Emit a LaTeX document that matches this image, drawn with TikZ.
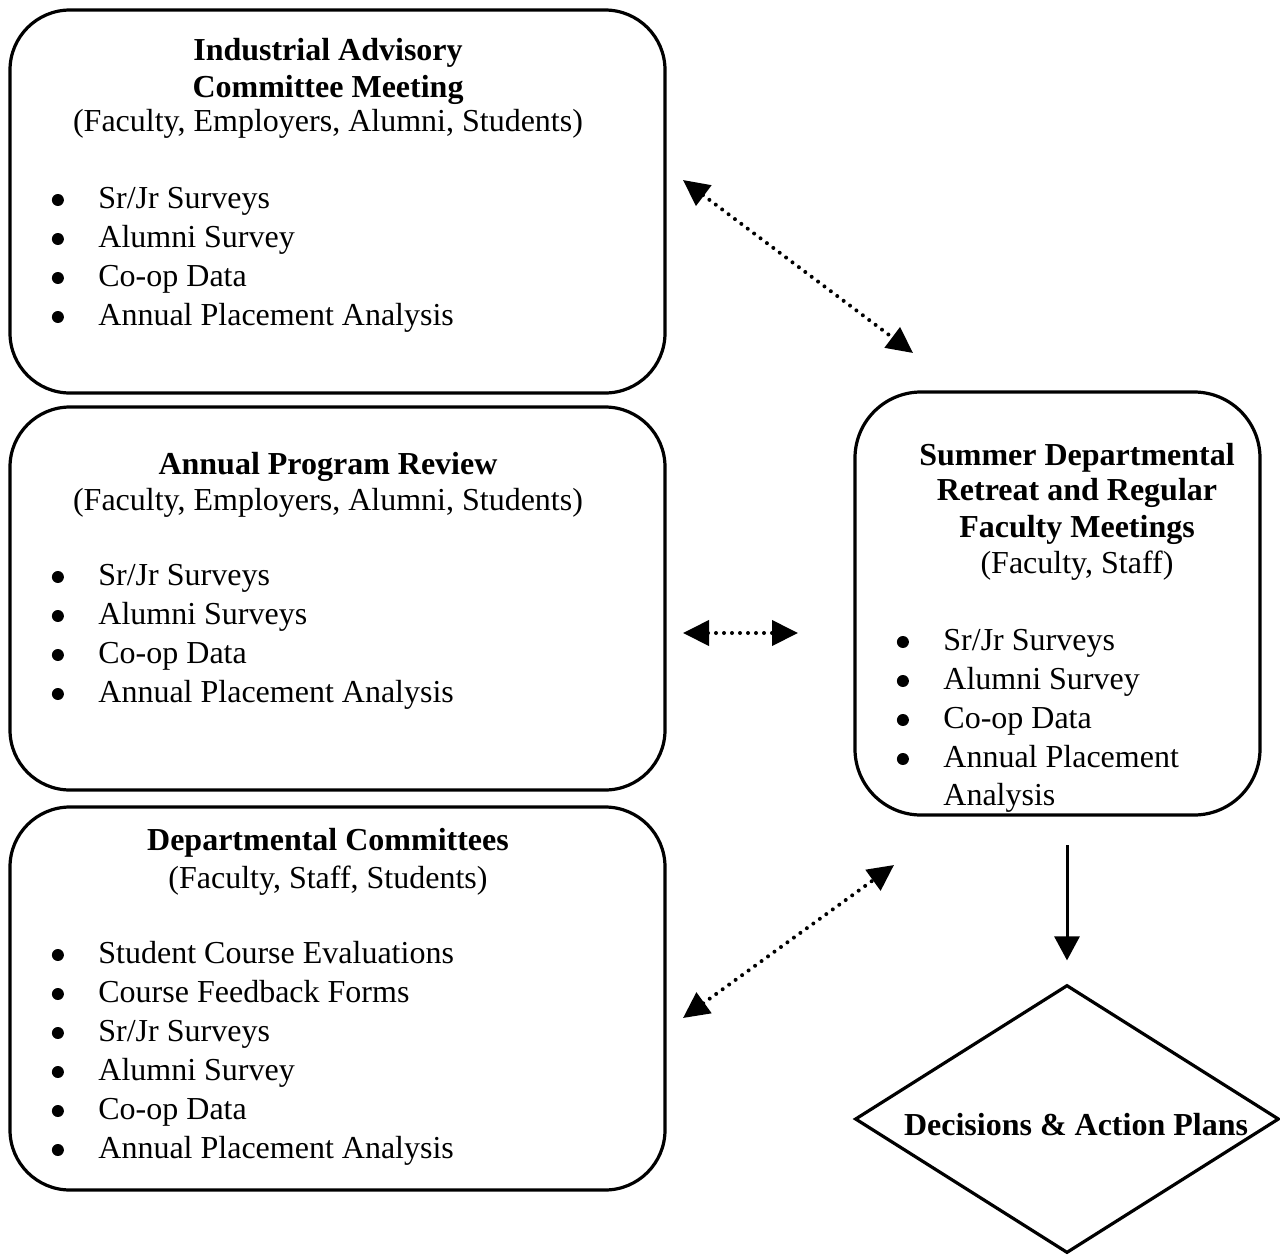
\documentclass[tikz,border=0pt]{standalone}
\usepackage{fontspec}
\setmainfont{Liberation Serif}
\usepackage{tikz}
\usetikzlibrary{positioning, arrows.meta, shapes.geometric}
\newcommand{\bigbullet}{\raisebox{1pt}{\tikz\fill (0,0) circle (3pt);}}
\tikzset{
    groupbox/.style={
        draw, line width=1.6pt, rounded corners=30pt, inner sep=0pt,
        minimum width=327.5pt, minimum height=191.5pt
    },
    retreatbox/.style={
        groupbox, rounded corners=33pt, minimum width=202.5pt, minimum height=211.5pt
    },
    decisionnode/.style={
        diamond, draw, line width=1.6pt, inner sep=0pt,
        minimum width=212pt, minimum height=134pt
    },
    titletext/.style={
        font=\fontsize{16pt}{19pt}\selectfont\bfseries, anchor=base, inner sep=0pt
    },
    subtext/.style={
        font=\fontsize{16pt}{19pt}\selectfont, anchor=base, inner sep=0pt
    },
    itemtext/.style={
        font=\fontsize{16pt}{19pt}\selectfont, anchor=base west, inner sep=0pt,
        execute at begin node={\makebox[23.5pt][l]{\hspace{0.25pt}\bigbullet}}
    },
    linkptr/.style={
        {Triangle[length=13pt,width=12.5pt]}-{Triangle[length=13pt,width=12.5pt]},
        line width=2pt, dash pattern=on 0pt off 4pt, line cap=round
    },
    flowptr/.style={
        -{Triangle[length=12pt,width=12.5pt]}, line width=1.5pt
    }
}
\begin{document}
\begin{tikzpicture}[x=0.5pt, y=-0.5pt]
    \useasboundingbox (0,0) rectangle (1280,1254);

    % 1. CÁC KHUNG
    \node[groupbox] (advisory) at (337.5,201.5) {};
    \node[groupbox] (review) at (337.5,598.5) {};
    \node[groupbox] (committees) at (337.5,998.5) {};
    \node[retreatbox] (retreat) at (1057.5,603.5) {};
    \node[decisionnode] (decision) at (1067,1119) {};

    % 2. TIÊU ĐỀ
    \node[titletext] (advisorytitle) at (328,60) {Industrial Advisory};
    \node[titletext] (advisorytitleb) at (328,97) {Committee Meeting};
    \node[subtext] (advisorysub) at (328,131) {(Faculty, Employers, Alumni, Students)};

    \node[titletext] (reviewtitle) at (328,474) {Annual Program Review};
    \node[subtext] (reviewsub) at (328,510) {(Faculty, Employers, Alumni, Students)};

    \node[titletext] (committeestitle) at (328,850) {Departmental Committees};
    \node[subtext] (committeessub) at (328,888) {(Faculty, Staff, Students)};

    \node[titletext] (retreattitle) at (1077,465) {Summer Departmental};
    \node[titletext] (retreattitleb) at (1077,500) {Retreat and Regular};
    \node[titletext] (retreattitlec) at (1077,537) {Faculty Meetings};
    \node[subtext] (retreatsub) at (1077,573) {(Faculty, Staff)};

    \node[titletext] (decisionlabel) at (1076,1135) {Decisions \& Action Plans};

    % 3. DANH SÁCH
    \foreach \txt [count=\i] in {Sr/Jr Surveys, Alumni Survey, Co-op Data, Annual Placement Analysis}
        \node[itemtext] (advisoryitem\i) at (51,169+39*\i) {\txt};
    \foreach \txt [count=\i] in {Sr/Jr Surveys, Alumni Surveys, Co-op Data, Annual Placement Analysis}
        \node[itemtext] (reviewitem\i) at (51,546+39*\i) {\txt};
    \foreach \txt [count=\i] in {Student Course Evaluations, Course Feedback Forms, Sr/Jr Surveys,
                               Alumni Survey, Co-op Data, Annual Placement Analysis}
        \node[itemtext] (committeesitem\i) at (51,924+39*\i) {\txt};
    \foreach \txt [count=\i] in {Sr/Jr Surveys, Alumni Survey, Co-op Data, Annual Placement}
        \node[itemtext] (retreatitem\i) at (896,611+39*\i) {\txt};
    \node[subtext, anchor=base west] (retreatitemrest) at (943,805) {Analysis};

    % 4. MŨI TÊN (nét chấm hai chiều)
    \coordinate (advisoryend) at (683,180);
    \coordinate (retreattop) at (913,353);
    \coordinate (reviewend) at (683,633);
    \coordinate (retreatleft) at (798,633);
    \coordinate (committeesend) at (683,1018);
    \coordinate (retreatlow) at (894,865);
    \coordinate (flowstart) at (1067,845);

    \draw[linkptr] (advisoryend) -- (retreattop);
    \draw[linkptr] (reviewend) -- (retreatleft);
    \draw[linkptr] (committeesend) -- (retreatlow);

    % 5. MŨI TÊN XUỐNG QUYẾT ĐỊNH
    \draw[flowptr, shorten >=11.5pt] (flowstart) -- (decision.north);
\end{tikzpicture}
\end{document}
